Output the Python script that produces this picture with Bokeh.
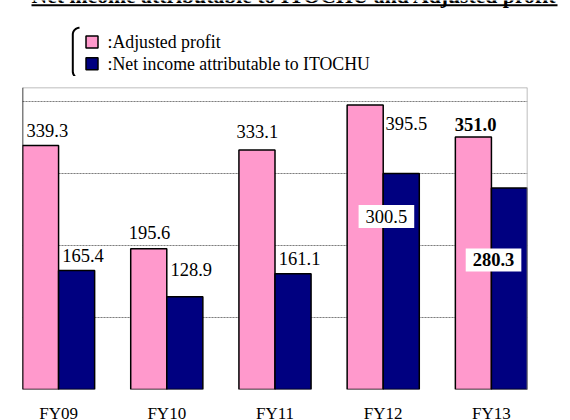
import numpy as np
from bokeh.plotting import figure
from bokeh.layouts import column
from bokeh.models import ColumnDataSource, FixedTicker, Range1d, Span, Grid
from bokeh.core.properties import value
from bokeh.embed import file_html
from bokeh.resources import INLINE

# ---------------- data ----------------
categories = ["FY09", "FY10", "FY11", "FY12", "FY13"]
adjusted_profit = [339.3, 195.6, 333.1, 395.5, 351.0]
net_income = [165.4, 128.9, 161.1, 300.5, 280.3]
y_ticks = [0, 100, 200, 300, 400]
y_max = 420
title_text = "Net income attributable to ITOCHU and Adjusted profit"
legend_labels = [":Adjusted profit", ":Net income attributable to ITOCHU"]

# ---------------- styles / placement ----------------
PINK = "#FF99CC"
NAVY = "#000080"
SERIF = "Liberation Serif"
W = 570
TOP_H = 76
FRAME_L, FRAME_T, FRAME_W, FRAME_H = 22, 87, 505, 302
BAR_W = 1 / 3

# per-label pixel offsets (placement of value labels, relative to bar top-left)
pink_dx = [4, -2, -2.4, 38.4, -0.5]
pink_dy = [-15, -16, -18, 18.7, -13]
navy_dx = [3.6, 3.7, 3.8, 3.2, 2.1]
navy_dy = [-15, -27, -15, 43, 72]
boxed = [False, False, False, True, True]
bold = [False, False, False, False, True]

n = len(categories)
x = np.arange(n)

# ---------------- header (title + legend), pixel coordinates ----------------
head = figure(width=W, height=TOP_H, x_range=Range1d(0, W), y_range=Range1d(TOP_H, 0),
              x_axis_location=None, y_axis_location=None,
              output_backend="svg", toolbar_location=None, min_border=0,
              background_fill_color="white", border_fill_color="white")
head.frame_align = False
head.outline_line_color = None
head.grid.visible = False

# title: only its lower edge is visible above the underline (as in the source)
head.text(x=[31], y=[-4.8], text=[title_text], text_font=value(SERIF),
          text_font_size="21.7px", text_font_style="bold", text_color="black",
          text_align="left", text_baseline="middle")
head.quad(left=[31], right=[557], top=[3.8], bottom=[5.8],
          fill_color="black", line_color=None)

r = 6.7
t1 = np.linspace(np.pi / 2, np.pi, 12)
t2 = np.linspace(np.pi, 3 * np.pi / 2, 12)
bx = list(79 + r * np.cos(t1)) + list(79 + r * np.cos(t2))
by = list(34 - r * np.sin(t1)) + list(71 - r * np.sin(t2))
head.line(bx, by, line_color="black", line_width=2)

legend_colors = [PINK, NAVY]
legend_y = [41.5, 63.3]
head.quad(left=[85.5] * 2, right=[97.5] * 2,
          top=[v - 6 for v in legend_y], bottom=[v + 6 for v in legend_y],
          fill_color=legend_colors, line_color="black", line_width=1.5)
head.text(x=[107] * 2, y=legend_y, text=legend_labels, text_font=value(SERIF),
          text_font_size="17.8px", text_color="black",
          text_align="left", text_baseline="middle")

# ---------------- chart ----------------
p = figure(frame_width=FRAME_W, frame_height=FRAME_H,
           x_range=Range1d(-BAR_W, n - 1 + BAR_W),
           y_range=Range1d(0, y_max),
           y_axis_location=None,
           output_backend="svg", toolbar_location=None,
           min_border_left=FRAME_L, min_border_top=FRAME_T - TOP_H,
           min_border_right=W - FRAME_L - FRAME_W, min_border_bottom=33,
           background_fill_color="white", border_fill_color="white")
p.frame_align = False
p.outline_line_color = None
p.xgrid.visible = False

p.add_layout(Grid(dimension=1, ticker=FixedTicker(ticks=y_ticks),
                  grid_line_color="#7f7f7f", grid_line_width=1,
                  grid_line_dash="2 1"))

p.add_layout(Span(location=y_max, dimension="width", line_color="#a8a8a8", line_width=1.5))
p.add_layout(Span(location=n - 1 + BAR_W, dimension="height", line_color="#a8a8a8", line_width=1.5))

src = ColumnDataSource(dict(xp=x - BAR_W / 2, xn=x + BAR_W / 2,
                            pink=adjusted_profit, navy=net_income))
p.vbar(x="xp", top="pink", width=BAR_W, source=src, fill_color=PINK,
       line_color="black", line_width=1.5)
p.vbar(x="xn", top="navy", width=BAR_W, source=src, fill_color=NAVY,
       line_color="black", line_width=1.5)

p.add_layout(Span(location=-BAR_W, dimension="height", line_color="black", line_width=1.5))

plain = dict(x=[], y=[], text=[], dx=[], dy=[], style=[])
box = dict(x=[], y=[], text=[], dx=[], dy=[], style=[])
for i in range(n):
    plain["x"].append(i - BAR_W); plain["y"].append(adjusted_profit[i])
    plain["text"].append(f"{adjusted_profit[i]:.1f}")
    plain["dx"].append(pink_dx[i]); plain["dy"].append(pink_dy[i])
    plain["style"].append("bold" if bold[i] else "normal")
    d = box if boxed[i] else plain
    d["x"].append(i); d["y"].append(net_income[i])
    d["text"].append(f"{net_income[i]:.1f}")
    d["dx"].append(navy_dx[i]); d["dy"].append(navy_dy[i])
    d["style"].append("bold" if bold[i] else "normal")

p.text(x="x", y="y", text="text", x_offset="dx", y_offset="dy",
       source=ColumnDataSource(plain), text_font=value(SERIF),
       text_font_size="18.5px", text_font_style="style", text_color="black",
       text_align="left", text_baseline="middle")
p.text(x="x", y="y", text="text", x_offset="dx", y_offset="dy",
       source=ColumnDataSource(box), text_font=value(SERIF),
       text_font_size="18.5px", text_font_style="style", text_color="black",
       text_align="center", text_baseline="middle",
       background_fill_color="white", padding=[7, 7, 5, 5])

ax = p.xaxis[0]
ax.ticker = FixedTicker(ticks=list(range(n)))
ax.major_label_overrides = {i: c for i, c in enumerate(categories)}
ax.axis_line_color = None
ax.major_tick_line_color = None
ax.minor_tick_line_color = None
ax.major_tick_out = 0
ax.major_tick_in = 0
ax.major_label_standoff = 14
ax.major_label_text_font = SERIF
ax.major_label_text_font_size = "17px"
ax.major_label_text_color = "black"

layout = column(head, p, spacing=0)
open("out.html", "w").write(file_html(layout, INLINE))
